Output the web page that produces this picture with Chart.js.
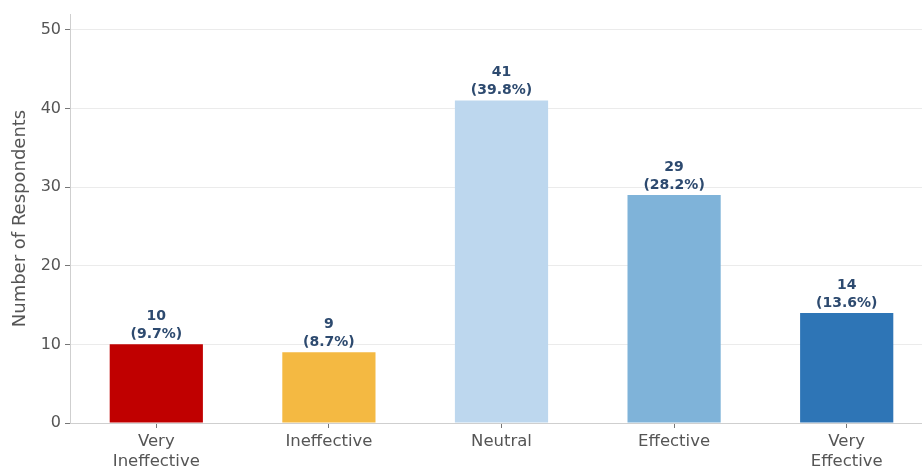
<!DOCTYPE html>
<html>
<head>
<meta charset="utf-8">
<script src="https://cdn.jsdelivr.net/npm/chart.js@4/dist/chart.umd.min.js"></script>
<style>
  html, body { margin: 0; padding: 0; background: #fff; overflow: hidden; }
  #wrap { width: 933px; height: 470px; position: relative; }
</style>
</head>
<body>
<div id="wrap"><canvas id="myChart"></canvas></div>
<script>
const categories = [['Very', 'Ineffective'], 'Ineffective', 'Neutral', 'Effective', ['Very', 'Effective']];
const counts = [10, 9, 41, 29, 14];
const barColors = ['#c00000', '#f4b942', '#bdd7ee', '#7fb3d9', '#2e75b6'];
const yTicks = [0, 10, 20, 30, 40, 50];

const total = counts.reduce((a, b) => a + b, 0);
const FONT = '"DejaVu Sans", sans-serif';

// value + percent above every bar
const barLabels = {
  id: 'barLabels',
  afterDatasetsDraw(chart) {
    const ctx = chart.ctx;
    const meta = chart.getDatasetMeta(0);
    ctx.save();
    ctx.fillStyle = '#2d4a6f';
    ctx.font = 'bold 14px ' + FONT;
    ctx.textAlign = 'center';
    ctx.textBaseline = 'bottom';
    meta.data.forEach((bar, i) => {
      let pct = (counts[i] / total * 100).toFixed(1);
      ctx.fillText('(' + pct + '%)', bar.x, bar.y - 3);
      ctx.fillText(String(counts[i]), bar.x, bar.y - 21);
    });
    ctx.restore();
  }
};

const ctx = document.getElementById('myChart');
const c = new Chart(ctx, {
  type: 'bar',
  data: {
    labels: categories,
    datasets: [{
      data: counts,
      backgroundColor: barColors,
      borderWidth: 0,
      categoryPercentage: 1,
      barPercentage: 0.54
    }]
  },
  options: {
    responsive: true,
    maintainAspectRatio: false,
    animation: false,
    layout: { padding: { top: 14, left: 10, right: 0, bottom: 0 } },
    plugins: { legend: { display: false }, tooltip: { enabled: false } },
    scales: {
      x: {
        grid: { display: true, drawOnChartArea: false, offset: false, tickLength: 5, tickColor: '#777' },
        border: { color: '#cfcfcf', width: 1 },
        ticks: { color: '#555', font: { family: FONT, size: 16.5 }, padding: 4, maxRotation: 0 },
        afterFit(scale) { scale.height = 47; }
      },
      y: {
        min: 0,
        max: 52,
        afterBuildTicks(scale) { scale.ticks = yTicks.map(v => ({ value: v })); },
        grid: { color: '#ebebeb', tickLength: 5, tickColor: '#777' },
        border: { color: '#cfcfcf', width: 1 },
        ticks: { color: '#555', font: { family: FONT, size: 16 }, padding: 4 },
        title: { display: true, text: 'Number of Respondents', color: '#555', font: { family: FONT, size: 18 }, padding: 0 },
        afterFit(scale) { scale.width = 60; }
      }
    }
  },
  plugins: [barLabels]
});
</script>
</body>
</html>
